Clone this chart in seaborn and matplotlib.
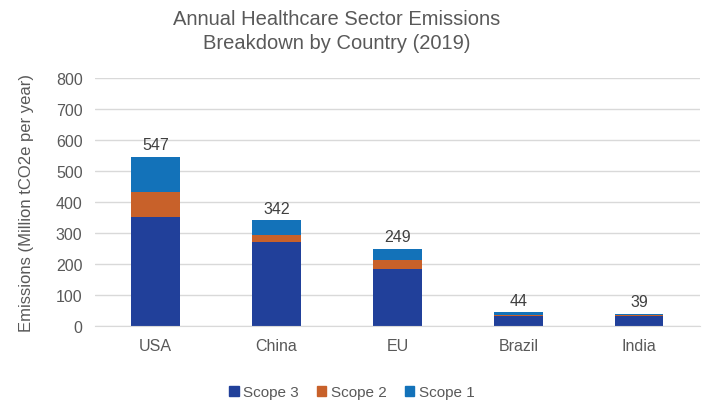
import matplotlib.pyplot as plt
import seaborn as sns
import pandas as pd
from matplotlib.patches import Patch

sns.set_style('white')
plt.rcParams['font.family'] = ['Liberation Sans', 'DejaVu Sans']

countries = ['USA', 'China', 'EU', 'Brazil', 'India']
scope3 = [350, 270, 184, 33, 33]
scope2 = [83, 25, 28, 3, 2]
scope1 = [114, 47, 37, 8, 4]
totals = [547, 342, 249, 44, 39]

c3, c2, c1 = '#21409a', '#c8612a', '#1372b9'
grey = '#595959'

df = pd.DataFrame({'country': countries, 's3': scope3, 's2': scope2, 's1': scope1})
df['top'] = df['s3'] + df['s2'] + df['s1']
df['mid'] = df['s3'] + df['s2']

fig = plt.figure(figsize=(7.04, 4.02), dpi=100)
ax = fig.add_axes([0.135, 0.187, 0.859, 0.616])

# stack by overplotting cumulative sums
for col, c in [('top', c1), ('mid', c2), ('s3', c3)]:
    sns.barplot(data=df, x='country', y=col, color=c, width=0.4, saturation=1,
                linewidth=0, edgecolor=c, ax=ax)

for i, t in enumerate(totals):
    ax.text(i, df['top'][i] + 14, str(t), ha='center', va='bottom', fontsize=11.5, color='#404040')

ax.set_ylim(0, 800)
ax.set_yticks(range(0, 801, 100))
ax.set_xlim(-0.5, 4.5)
ax.yaxis.grid(True, color='#d9d9d9', linewidth=1)
ax.set_axisbelow(True)
for s in ['top', 'right', 'left']:
    ax.spines[s].set_visible(False)
ax.spines['bottom'].set_color('#d9d9d9')
ax.tick_params(axis='both', length=0, labelsize=11.5, colors=grey, pad=9)
ax.set_xlabel('')
ax.set_ylabel('Emissions (Million tCO2e per year)', fontsize=12, color=grey, labelpad=16)

fig.suptitle('Annual Healthcare Sector Emissions\nBreakdown by Country (2019)',
             fontsize=14.5, color=grey, x=0.478, y=0.975, linespacing=1.35)

handles = [Patch(color=c3, label='Scope 3'), Patch(color=c2, label='Scope 2'), Patch(color=c1, label='Scope 1')]
fig.legend(handles=handles, loc='lower center', bbox_to_anchor=(0.5, -0.03), ncol=3, frameon=False,
           fontsize=11, handlelength=0.6, handleheight=0.6, handletextpad=0.3, columnspacing=1.2,
           labelcolor=grey)

fig.savefig('out.png', dpi=100)
